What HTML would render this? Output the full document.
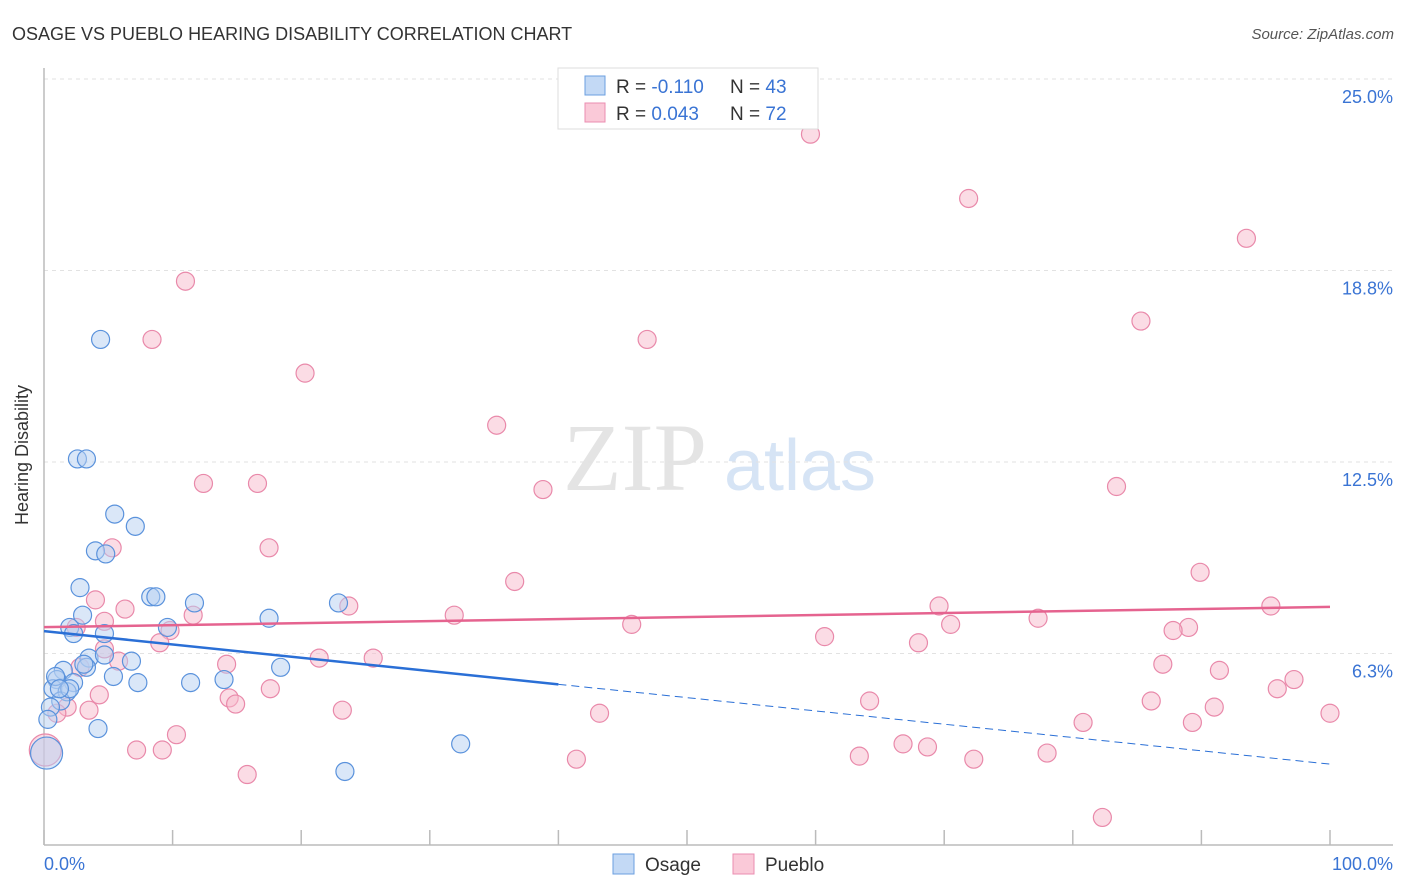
<!DOCTYPE html>
<html><head><meta charset="utf-8"><style>
body{margin:0;background:#fff;font-family:"Liberation Sans",sans-serif;}
svg{display:block}
</style></head><body>
<svg width="1406" height="892" xmlns="http://www.w3.org/2000/svg" id="chart">
<text x="12" y="40" font-size="18" fill="#333">OSAGE VS PUEBLO HEARING DISABILITY CORRELATION CHART</text>
<text x="1394" y="39" font-size="15" fill="#555" font-style="italic" text-anchor="end">Source: ZipAtlas.com</text>
<text x="635" y="490" font-size="96" fill="#e4e4e4" font-family="Liberation Serif,serif" text-anchor="middle">ZIP</text>
<text x="800" y="490" font-size="72" fill="#d6e4f5" text-anchor="middle">atlas</text>
<g id="grid"></g><g id="axes"></g><g id="pts"></g><g id="trend"></g>
<text x="28" y="455" font-size="18" fill="#333" text-anchor="middle" transform="rotate(-90 28 455)">Hearing Disability</text>
<text x="44" y="870" font-size="18" fill="#3a74d4">0.0%</text>
<text x="1393" y="870" font-size="18" fill="#3a74d4" text-anchor="end">100.0%</text>
<g>
<rect x="558" y="68" width="260" height="61" fill="#fff" stroke="#ddd"/>
<rect x="585" y="76" width="20" height="19" fill="#c3d9f5" stroke="#6b9fe0"/>
<rect x="585" y="103" width="20" height="19" fill="#fac9d8" stroke="#eb8db0"/>
<text x="616" y="93" font-size="19" fill="#333">R = <tspan fill="#3a74d4">-0.110</tspan><tspan x="730">N = </tspan><tspan fill="#3a74d4">43</tspan></text>
<text x="616" y="120" font-size="19" fill="#333">R = <tspan fill="#3a74d4"> 0.043</tspan><tspan x="730">N = </tspan><tspan fill="#3a74d4">72</tspan></text>
</g>
<g>
<rect x="613" y="854" width="21" height="20" fill="#c3d9f5" stroke="#6b9fe0"/>
<text x="645" y="871" font-size="19" fill="#333">Osage</text>
<rect x="733" y="854" width="21" height="20" fill="#fac9d8" stroke="#eb8db0"/>
<text x="765" y="871" font-size="19" fill="#333">Pueblo</text>
</g>
</svg>
<script>
const yTicks=[25,18.75,12.5,6.25];
const yTickLabels=["25.0%","18.8%","12.5%","6.3%"];
const xTicks=[0,10,20,30,40,50,60,70,80,90,100];
const osageX=[4.4,2.6,3.3,5.5,7.1,4.0,4.8,2.8,8.3,8.7,11.7,22.9,17.5,3.0,2.0,2.3,9.6,3.5,4.7,6.8,3.3,1.5,18.4,5.4,7.3,11.4,14.0,1.0,0.7,2.3,1.8,1.3,0.5,0.3,4.2,32.4,23.4,0.2,2.0,0.9,1.2,4.7,3.1];
const osageY=[16.5,12.6,12.6,10.8,10.4,9.6,9.5,8.4,8.1,8.1,7.9,7.9,7.4,7.5,7.1,6.9,7.1,6.1,6.2,6.0,5.8,5.7,5.8,5.5,5.3,5.3,5.4,5.4,5.1,5.3,5.0,4.7,4.5,4.1,3.8,3.3,2.4,3.0,5.1,5.5,5.1,6.9,5.9];
const puebloX=[59.6,71.9,93.5,11.0,85.3,8.4,46.9,20.3,35.2,12.4,16.6,38.8,83.4,17.5,5.3,36.6,89.9,4.0,6.3,23.7,69.6,95.4,11.6,31.9,77.3,45.7,70.5,9.8,89.0,87.8,60.7,9.0,68.0,4.7,2.5,5.8,21.4,25.6,14.2,87.0,91.4,2.8,17.6,95.9,97.2,4.3,14.4,14.9,64.2,86.1,23.2,43.2,91.0,3.5,1.8,1.0,100,80.8,89.3,10.3,7.2,9.2,66.8,68.7,63.4,41.4,72.3,78.0,15.8,82.3,0.1,4.7];
const puebloY=[23.2,21.1,19.8,18.4,17.1,16.5,16.5,15.4,13.7,11.8,11.8,11.6,11.7,9.7,9.7,8.6,8.9,8.0,7.7,7.8,7.8,7.8,7.5,7.5,7.4,7.2,7.2,7.0,7.1,7.0,6.8,6.6,6.6,6.4,7.1,6.0,6.1,6.1,5.9,5.9,5.7,5.8,5.1,5.1,5.4,4.9,4.8,4.6,4.7,4.7,4.4,4.3,4.5,4.4,4.5,4.3,4.3,4.0,4.0,3.6,3.1,3.1,3.3,3.2,2.9,2.8,2.8,3.0,2.3,0.9,3.1,7.3];
const osageTrend=[6.98,2.64]; const osageSolidEnd=40;
const puebloTrend=[7.11,7.77];
const NS="http://www.w3.org/2000/svg";
const X=v=>44+v*12.86, Y=v=>845-v*30.64;
function mk(t,a,p){const e=document.createElementNS(NS,t);for(const k in a)e.setAttribute(k,a[k]);document.getElementById(p).appendChild(e);return e;}
yTicks.forEach((t,i)=>{
 const g=mk('line',{x1:44,x2:1393,y1:Y(t),y2:Y(t),stroke:'#e2e2e2','stroke-dasharray':'4,4'},'grid');
 
 
 const tx=mk('text',{x:1393,y:Y(t)+24,'font-size':18,fill:'#3a74d4','text-anchor':'end'},'grid');
 tx.textContent=yTickLabels[i];
 
 
});
const ax=mk('line',{x1:44,x2:44,y1:68,y2:845,stroke:'#bbb','stroke-width':1.5},'axes');


const bx=mk('line',{x1:44,x2:1393,y1:845,y2:845,stroke:'#bbb','stroke-width':1.5},'axes');


xTicks.forEach(t=>{const l=mk('line',{x1:X(t),x2:X(t),y1:830,y2:845,stroke:'#bbb','stroke-width':1.5},'axes');
 
 });
function pts(xs,ys,fill,stroke,name){xs.forEach((x,i)=>{const big=x<0.5&&ys[i]<3.5;
 const c=mk('circle',{cx:X(x),cy:Y(ys[i]),r:big?16:9,fill:fill,'fill-opacity':0.5,stroke:stroke,'stroke-width':1.2},'pts');
 
 });}
pts(puebloX,puebloY,'#f8b9cc','#e989aa','pueblo-point');
pts(osageX,osageY,'#b5d0f2','#5a92dc','osage-point');
const oy=x=>osageTrend[0]+(osageTrend[1]-osageTrend[0])*x/100;
const t1=mk('line',{x1:X(0),y1:Y(oy(0)),x2:X(osageSolidEnd),y2:Y(oy(osageSolidEnd)),stroke:'#2a6fd6','stroke-width':2.5},'trend');


const t2=mk('line',{x1:X(osageSolidEnd),y1:Y(oy(osageSolidEnd)),x2:X(100),y2:Y(oy(100)),stroke:'#2a6fd6','stroke-width':1,'stroke-dasharray':'8,5'},'trend');


const t3=mk('line',{x1:X(0),y1:Y(puebloTrend[0]),x2:X(100),y2:Y(puebloTrend[1]),stroke:'#e5638f','stroke-width':2.5},'trend');


</script>
</body></html>
